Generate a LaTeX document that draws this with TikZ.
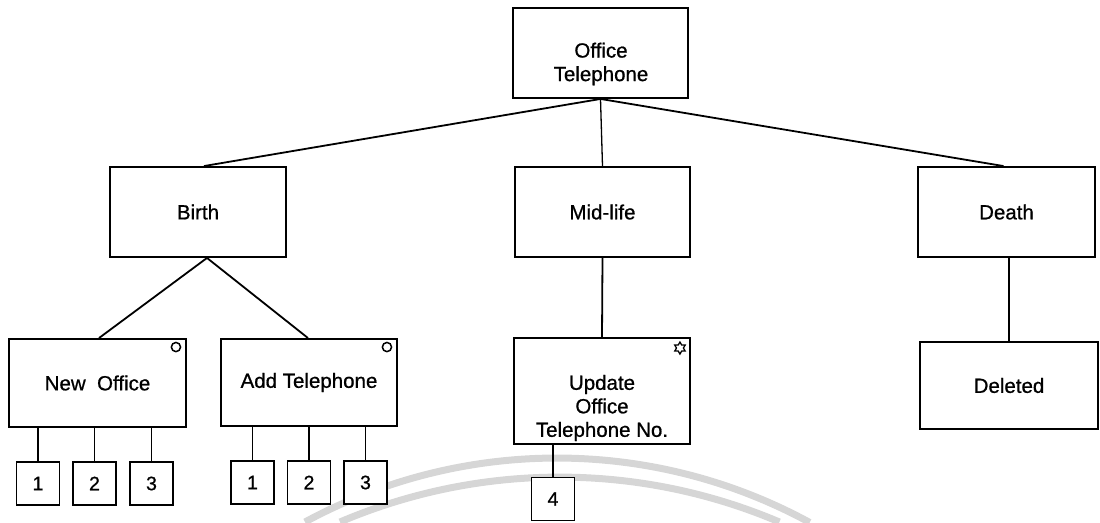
\documentclass[tikz,border=0pt]{standalone}
\usepackage{fontspec}
\setmainfont{Liberation Sans}[FakeBold=0.8]
\begin{document}
\begin{tikzpicture}[x=1pt,y=-1pt,
  box/.style={draw, line width=1.9pt, fill=white, inner sep=0pt, align=center,
    font=\fontsize{20.5}{23.5}\selectfont},
  numbox/.style={draw, line width=1.9pt, fill=white, minimum width=43pt, minimum height=43pt,
    inner sep=0pt, font=\fontsize{19.5}{22}\selectfont},
  txt/.style={align=center, inner sep=0pt, font=\fontsize{20.5}{23.5}\selectfont},
  link/.style={line width=1.8pt},
  thinlink/.style={line width=1.3pt},
  sym/.style={line width=1.5pt},
  wmark/.style={draw=black!16, line width=7pt}
]
\useasboundingbox (0,0) rectangle (1100,522);

% faint watermark arcs
\draw[wmark] (305,522) arc[start angle=-118.5, end angle=-61.4, radius=528];
\draw[wmark] (340,522) arc[start angle=-113.1, end angle=-66.9, radius=560];

% main boxes
\node[box, minimum width=175pt, minimum height=90pt] (ot) at (600.5,53) {};
\node[txt] (ottext) at (601,64) {Office\\Telephone};
\node[box, minimum width=176pt, minimum height=90pt] (birth) at (198,212) {Birth};
\node[box, minimum width=175pt, minimum height=90pt] (mid) at (602.5,212) {Mid-life};
\node[box, minimum width=177pt, minimum height=90pt] (death) at (1006.5,212) {Death};

\node[box, minimum width=177pt, minimum height=88pt] (no) at (97.5,383) {New\ \ Office};
\node[box, minimum width=176pt, minimum height=87pt] (at) at (309,382.5) {Add Telephone};
\node[box, minimum width=176pt, minimum height=106pt] (upd) at (602,391) {};
\node[txt] (updtext) at (602,408) {Update\\Office\\Telephone No.};
\node[box, minimum width=178pt, minimum height=87pt] (del) at (1009,385.5) {Deleted};

% small numbered boxes
\node[numbox] (no1) at (38,483.5) {1};
\node[numbox] (no2) at (94.5,483.5) {2};
\node[numbox] (no3) at (151.5,483.5) {3};
\node[numbox] (at1) at (252.5,482.5) {1};
\node[numbox] (at2) at (309,482.5) {2};
\node[numbox] (at3) at (365.5,482.5) {3};
\node[numbox] (b4) at (553,499) {4};

% connectors
\draw[link] (ot.south) -- ([xshift=6pt]birth.north);
\draw[thinlink] (ot.south) -- (mid.north);
\draw[link] (ot.south) -- ([xshift=-3pt]death.north);
\draw[link] ([xshift=9pt]birth.south) -- ([xshift=1.5pt]no.north);
\draw[link] ([xshift=9pt]birth.south) -- ([xshift=-1pt]at.north);
\draw[link] (mid.south) -- (upd.north);
\draw[thinlink] (del.north |- death.south) -- (del.north);
\foreach \c/\p in {no1/no, no2/no, no3/no, at1/at, at2/at, at3/at}
  \draw[link] (\c.north |- \p.south) -- (\c.north);
\draw[thinlink] (b4.north |- upd.south) -- (b4.north);

% selection / iteration symbols
\draw[sym] ([shift={(-11,9)}]no.north east) circle[radius=4.6];
\draw[sym] ([shift={(-11,9)}]at.north east) circle[radius=4.6];
\coordinate (hx) at ([shift={(-11,11)}]upd.north east);
\draw[line width=1.3pt, shift={(hx)}]
  (90:6) -- (120:3.46) -- (150:6) -- (180:3.46) -- (210:6) -- (240:3.46)
  -- (270:6) -- (300:3.46) -- (330:6) -- (0:3.46) -- (30:6) -- (60:3.46) -- cycle;
\end{tikzpicture}
\end{document}
